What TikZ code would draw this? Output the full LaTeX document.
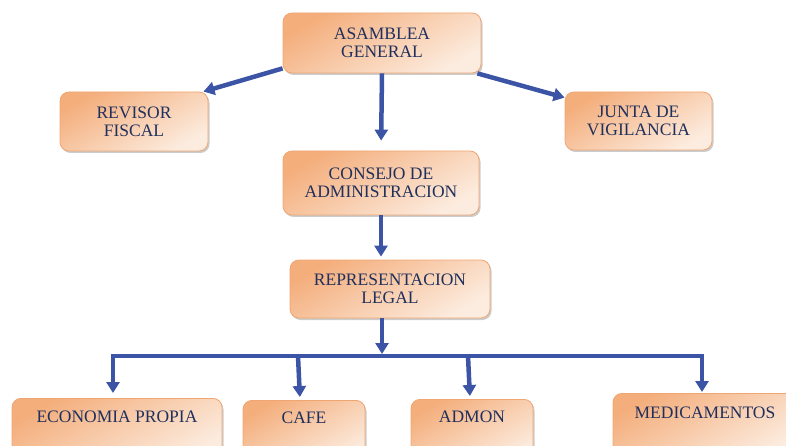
\documentclass[tikz,border=0pt]{standalone}
\usepackage{fontspec}
\setmainfont{Liberation Serif}
\usetikzlibrary{arrows.meta,shadows}
\definecolor{azul}{RGB}{59,84,165}
\definecolor{texto}{RGB}{32,48,92}
\definecolor{naranja}{RGB}{244,174,124}
\definecolor{medio}{RGB}{249,210,180}
\definecolor{palido}{RGB}{252,236,223}
\definecolor{borde}{RGB}{240,166,114}
\begin{document}
\begin{tikzpicture}[x=1pt,y=-1pt,
		caja/.style={draw=borde, line width=0.8pt, rounded corners=9pt, top color=naranja, middle color=medio, bottom color=palido, shading angle=30,
			drop shadow={shadow xshift=1.5pt, shadow yshift=-2pt, fill=black!40, opacity=0.5},
			text=texto, align=center, inner sep=0pt, font=\fontsize{17.5}{18}\selectfont},
		flecha/.style={azul, line width=4.5pt, -{Triangle[width=13pt,length=11pt]}}]
	\useasboundingbox (0,0) rectangle (786,446);
	% cajas de arriba
	\node[caja, minimum width=198pt, minimum height=60pt] (asamblea) at (382,43) {ASAMBLEA\\GENERAL};
	\node[caja, minimum width=148pt, minimum height=59pt] (revisor) at (134,121.5) {REVISOR\\FISCAL};
	\node[caja, minimum width=147pt, minimum height=58pt] (junta) at (638.5,121) {JUNTA DE\\VIGILANCIA};
	\node[caja, minimum width=196pt, minimum height=64pt] (consejo) at (381,183) {CONSEJO DE\\ADMINISTRACION};
	\node[caja, minimum width=200pt, minimum height=58pt] (repr) at (390,289) {REPRESENTACION\\LEGAL};
	% cajas de abajo (cortadas por el borde)
	\node[caja, anchor=north, minimum width=210pt, text height=24pt, text depth=40pt] (economia) at (117,398) {ECONOMIA PROPIA};
	\node[caja, anchor=north, minimum width=122pt, text height=23pt, text depth=40pt] (cafe) at (304,400) {CAFE};
	\node[caja, anchor=north, minimum width=122pt, text height=23pt, text depth=40pt] (admon) at (472,399) {ADMON};
	\node[caja, anchor=north, minimum width=184pt, text height=25pt, text depth=40pt] (medicamentos) at (705,393) {MEDICAMENTOS};
	\coordinate (bus) at (382,356);
	% flechas
	\draw[flecha] ([yshift=5pt]asamblea.south west) -- ([xshift=-5pt]revisor.north east);
	\draw[flecha] ([xshift=-4pt]asamblea.south east) -- ([yshift=-6pt]junta.north west);
	\draw[flecha, shorten >=10pt] (asamblea.south) -- (consejo.north);
	\draw[flecha, shorten >=3pt] (consejo.south) -- (repr.north -| consejo.south);
	\draw[flecha] (repr.south -| bus) -- ([yshift=2pt]bus);
	\draw[azul, line width=4.5pt, line cap=rect] ([xshift=-4pt]economia.north |- bus) -- ([xshift=-3pt]medicamentos.north |- bus);
	\draw[flecha, shorten >=5pt] ([xshift=-4pt]economia.north |- bus) -- ([xshift=-4pt]economia.north);
	\draw[flecha, shorten >=3pt] ([xshift=-6pt]cafe.north |- bus) -- ([xshift=-4pt]cafe.north);
	\draw[flecha, shorten >=3pt] ([xshift=-4pt]admon.north |- bus) -- ([xshift=-2pt]admon.north);
	\draw[flecha, shorten >=1pt] ([xshift=-3pt]medicamentos.north |- bus) -- ([xshift=-3pt]medicamentos.north);
\end{tikzpicture}
\end{document}
